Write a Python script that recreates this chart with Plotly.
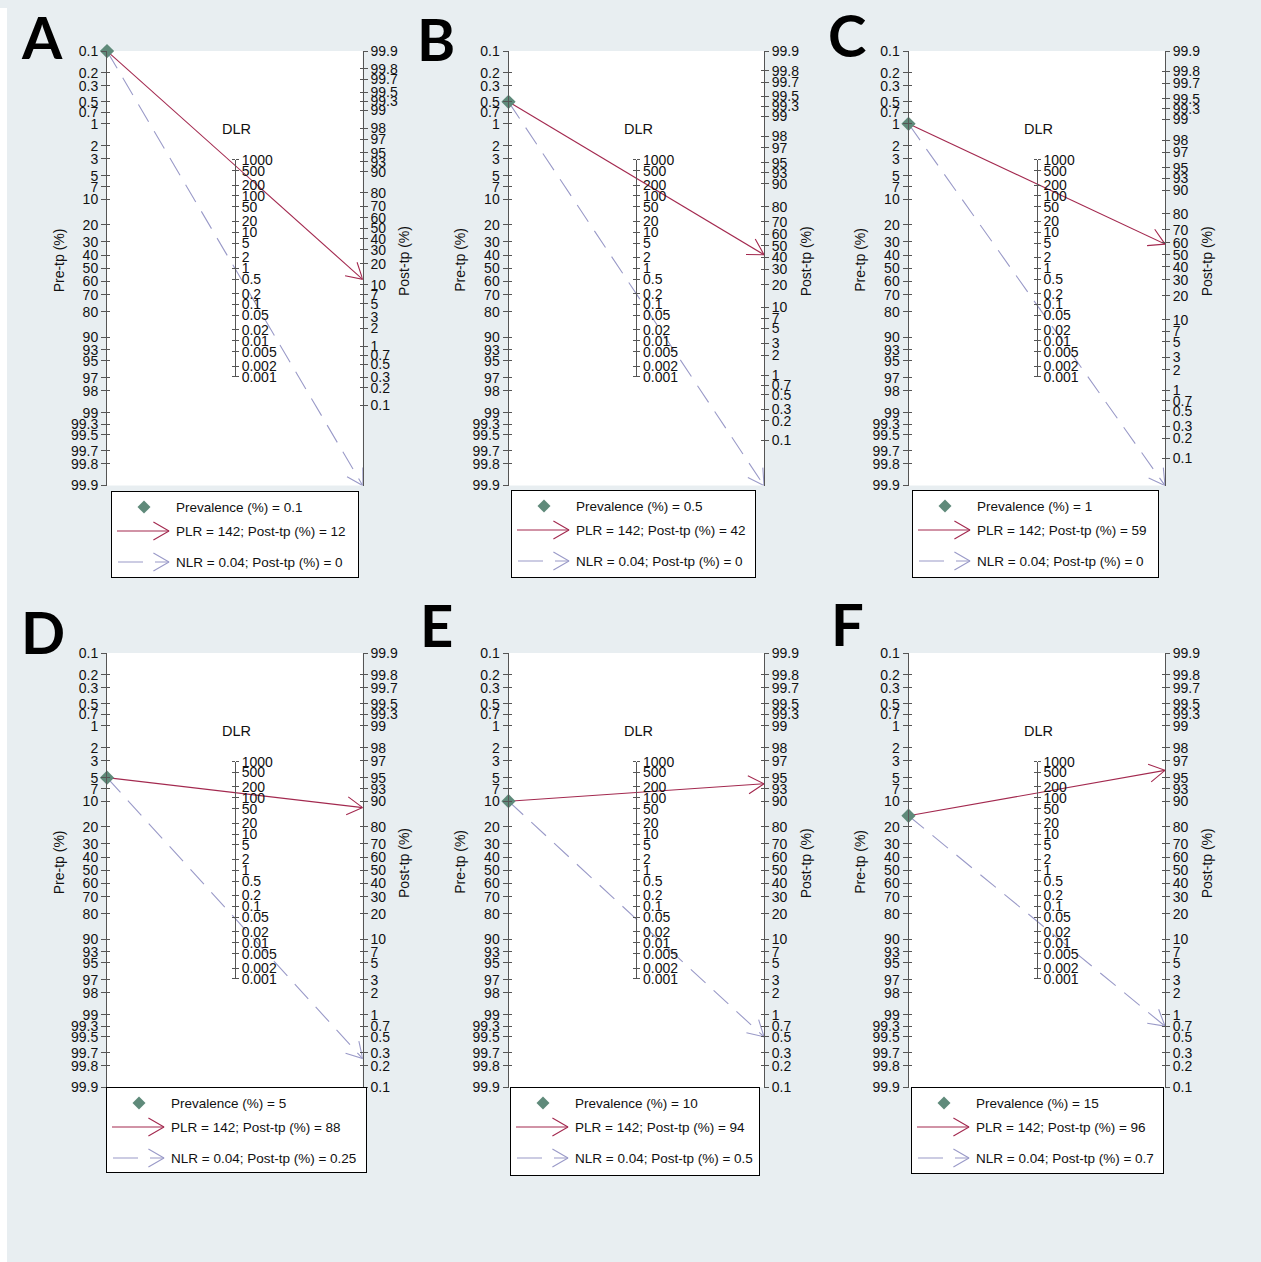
import math
import plotly.graph_objects as go

# ---- data -------------------------------------------------------------
panel_letters = ["A", "B", "C", "D", "E", "F"]
pretest_pct = [0.1, 0.5, 1, 5, 10, 15]          # prevalence (%)
plr_values = [142, 142, 142, 142, 142, 142]      # positive likelihood ratio
nlr_values = [0.04, 0.04, 0.04, 0.04, 0.04, 0.04]  # negative likelihood ratio
plr_post_pct = [12, 42, 59, 88, 94, 96]          # post-test prob. after positive test
nlr_post_pct = [0.0044, 0.02, 0.04, 0.25, 0.5, 0.7]  # post-test prob. after negative test

pre_ticks = [0.1, 0.2, 0.3, 0.5, 0.7, 1, 2, 3, 5, 7, 10, 20, 30, 40, 50, 60, 70,
             80, 90, 93, 95, 97, 98, 99, 99.3, 99.5, 99.7, 99.8, 99.9]
post_ticks = [99.9, 99.8, 99.7, 99.5, 99.3, 99, 98, 97, 95, 93, 90, 80, 70, 60, 50,
              40, 30, 20, 10, 7, 5, 3, 2, 1, 0.7, 0.5, 0.3, 0.2, 0.1]
lr_ticks = [1000, 500, 200, 100, 50, 20, 10, 5, 2, 1, 0.5, 0.2, 0.1, 0.05, 0.02,
            0.01, 0.005, 0.002, 0.001]

# ---- page geometry ------------------------------------------------------
# Positions below are in screen pixels; the page shows the figure starting
# PAGE_TOP px down and with a vertical factor of V_SCALE.
PAGE_TOP, V_SCALE = 7.9, 0.98748
FIG_W, FIG_H = 1261, 1270
col_left = [107, 508.5, 908.5]
col_right = [362.7, 764, 1165]
row_top = [51, 653]
row_bottom = [485.5, 1087.5]
legend_boxes = [(112, 492, 358, 577), (512, 491, 755, 577), (913, 491, 1158, 577),
                (107, 1088, 366, 1172), (511, 1088, 759, 1175), (912, 1088, 1163, 1173)]
letter_pos = [(22, 36), (418, 38), (829, 34), (22, 631), (421, 624), (832, 623)]

RED = "#a3294f"
LILAC = "#9a9ac8"
DIAMOND = "#5f8a7a"
AXIS = "#555555"
TXT = "#111111"
BG = "#e8eef1"
FONT = "Liberation Sans, Arial, sans-serif"
TICKFONT = dict(family=FONT, size=14, color=TXT)

P_LO, P_HI = 0.001, 0.999


def logit(p):
    return math.log(p / (1 - p))


def fx(px):
    return px / FIG_W


def fy(py):
    return 1 - (py - PAGE_TOP) / V_SCALE / FIG_H


def fmt(v):
    return f"{v:g}"


def post_label(v):
    # values below the 0.1 % floor of the scale are reported as 0
    return "0" if v < 0.1 else fmt(v)


def chevron(x0, y0, x1, y1, kx, ky, length=18.0, half_deg=30.0):
    """Open arrowhead at (x1, y1); kx/ky are pixels per data unit
    (ky measured downward)."""
    dx, dy = (x1 - x0) * kx, (y1 - y0) * ky
    n = math.hypot(dx, dy)
    bx, by = -dx / n, -dy / n
    xs, ys = [], []
    for s in (1, -1):
        a = math.radians(half_deg) * s
        rx = bx * math.cos(a) - by * math.sin(a)
        ry = bx * math.sin(a) + by * math.cos(a)
        xs.append(x1 + rx * length / kx)
        ys.append(y1 + ry * length / ky)
    return [xs[0], x1, xs[1]], [ys[0], y1, ys[1]]


layout = {}
traces = []
annotations = []
shapes = []
counter = {"x": 0, "y": 0}


def new_axis(kind):
    counter[kind] += 1
    n = counter[kind]
    ref = kind if n == 1 else f"{kind}{n}"
    key = f"{kind}axis" if n == 1 else f"{kind}axis{n}"
    return ref, key


def placeholder(xref, yref):
    traces.append(go.Scatter(x=[None], y=[None], xaxis=xref, yaxis=yref,
                             showlegend=False, hoverinfo="skip"))


def white_box(x0, y0, x1, y1):
    shapes.append(dict(type="rect", xref="paper", yref="paper", x0=fx(x0),
                       x1=fx(x1), y0=fy(y1), y1=fy(y0), fillcolor="#ffffff",
                       line=dict(width=0), layer="below"))


base_axis = dict(showgrid=False, zeroline=False, fixedrange=True,
                 tickfont=TICKFONT, tickcolor=AXIS, linecolor=AXIS, linewidth=1,
                 tickwidth=1)

u_top, u_bot = logit(P_LO), logit(P_HI)

for i in range(6):
    r, c = divmod(i, 3)
    xl, xr = col_left[c], col_right[c]
    yt, yb = row_top[r], row_bottom[r]
    w_px, h_px = xr - xl, yb - yt
    yc = (yt + yb) / 2
    xm = (xl + xr) / 2
    white_box(xl, yt, xr, yb)

    pre = pretest_pct[i] / 100
    q_lo = min(P_LO, nlr_post_pct[i] / 100)
    r_lo, r_hi = logit(q_lo), logit(P_HI)

    def right_to_left(q):
        f = (r_hi - logit(q)) / (r_hi - r_lo)
        return u_top + f * (u_bot - u_top)

    x_ref, x_key = new_axis("x")
    yl_ref, yl_key = new_axis("y")
    layout[x_key] = dict(domain=[fx(xl), fx(xr)], range=[0, 1], visible=False,
                         anchor=yl_ref, fixedrange=True)

    pre_vals = [logit(v / 100) for v in pre_ticks]
    pre_text = [fmt(v) for v in pre_ticks]
    layout[yl_key] = dict(base_axis, domain=[fy(yb), fy(yt)], range=[u_bot, u_top],
                          anchor=x_ref, side="left", tickmode="array",
                          tickvals=pre_vals, ticktext=pre_text, ticks="outside",
                          ticklen=5, showline=True)
    # inner half of the cross-shaped ticks
    t_ref, t_key = new_axis("y")
    layout[t_key] = dict(base_axis, overlaying=yl_ref, anchor=x_ref, side="left",
                         range=[u_bot, u_top], tickmode="array", tickvals=pre_vals,
                         ticks="inside", ticklen=3, showticklabels=False,
                         showline=False)
    placeholder(x_ref, t_ref)

    post_vals = [logit(v / 100) for v in post_ticks]
    post_text = [fmt(v) for v in post_ticks]
    yr_ref, yr_key = new_axis("y")
    layout[yr_key] = dict(base_axis, overlaying=yl_ref, anchor=x_ref, side="right",
                          range=[r_lo, r_hi], tickmode="array", tickvals=post_vals,
                          ticktext=post_text, ticks="outside", ticklen=4,
                          showline=True)
    placeholder(x_ref, yr_ref)
    t_ref, t_key = new_axis("y")
    layout[t_key] = dict(base_axis, overlaying=yl_ref, anchor=x_ref, side="right",
                         range=[r_lo, r_hi], tickmode="array", tickvals=post_vals,
                         ticks="inside", ticklen=3, showticklabels=False,
                         showline=False)
    placeholder(x_ref, t_ref)

    # likelihood-ratio scale in the middle (half the height of the outer scales)
    lr_half = math.log(1000) / 2 / (u_bot - u_top) * h_px
    ym_ref, ym_key = new_axis("y")
    layout[ym_key] = dict(base_axis, anchor="free", position=fx(xm), side="right",
                          domain=[fy(yc + lr_half), fy(yc - lr_half)], type="log",
                          range=[-3, 3], tickmode="array", tickvals=lr_ticks,
                          ticktext=[fmt(v) for v in lr_ticks], ticks="outside",
                          ticklen=3, showline=True)
    placeholder(x_ref, ym_ref)
    t_ref, t_key = new_axis("y")
    layout[t_key] = dict(base_axis, overlaying=ym_ref, anchor="free", position=fx(xm),
                         side="left", type="log", range=[-3, 3], tickmode="array",
                         tickvals=lr_ticks, ticks="outside", ticklen=3,
                         showticklabels=False, showline=False)
    placeholder(x_ref, t_ref)

    # nomogram lines
    kx = w_px
    ky = h_px / (u_bot - u_top)
    y0 = logit(pre)
    y_pos = right_to_left(plr_post_pct[i] / 100)
    y_neg = right_to_left(nlr_post_pct[i] / 100)

    traces.append(go.Scatter(x=[0, 1], y=[y0, y_neg], mode="lines", xaxis=x_ref,
                             yaxis=yl_ref, line=dict(color=LILAC, width=1.1,
                                                      dash="20px,11px"),
                             showlegend=False, hoverinfo="skip"))
    cx, cy = chevron(0, y0, 1, y_neg, kx, ky)
    traces.append(go.Scatter(x=cx, y=cy, mode="lines", xaxis=x_ref, yaxis=yl_ref,
                             line=dict(color=LILAC, width=1.1), showlegend=False,
                             hoverinfo="skip"))
    traces.append(go.Scatter(x=[0, 1], y=[y0, y_pos], mode="lines", xaxis=x_ref,
                             yaxis=yl_ref, line=dict(color=RED, width=1.1),
                             showlegend=False, hoverinfo="skip"))
    cx, cy = chevron(0, y0, 1, y_pos, kx, ky)
    traces.append(go.Scatter(x=cx, y=cy, mode="lines", xaxis=x_ref, yaxis=yl_ref,
                             line=dict(color=RED, width=1.1), showlegend=False,
                             hoverinfo="skip"))
    traces.append(go.Scatter(x=[0], y=[y0], mode="markers", xaxis=x_ref,
                             yaxis=yl_ref, cliponaxis=False,
                             marker=dict(symbol="diamond", size=11, color=DIAMOND),
                             showlegend=False, hoverinfo="skip"))

    # axis titles, DLR label, panel letter
    annotations.append(dict(x=fx(xl - 48), y=fy(yc - 8), xref="paper", yref="paper",
                            xanchor="center", yanchor="middle",
                            text="Pre-tp (%)", textangle=-90, showarrow=False,
                            font=dict(family=FONT, size=14, color=TXT)))
    annotations.append(dict(x=fx(xr + 42), y=fy(yc - 7), xref="paper", yref="paper",
                            xanchor="center", yanchor="middle",
                            text="Post-tp (%)", textangle=-90, showarrow=False,
                            font=dict(family=FONT, size=14, color=TXT)))
    annotations.append(dict(x=fx(xm + 2), y=fy(yc - lr_half - 31), xref="paper",
                            yref="paper", xanchor="center", yanchor="middle",
                            text="DLR", showarrow=False,
                            font=dict(family=FONT, size=14.5, color=TXT)))
    lx, ly = letter_pos[i]
    annotations.append(dict(x=fx(lx - 3), y=fy(ly), xref="paper", yref="paper",
                            xanchor="left", yanchor="middle", text=panel_letters[i],
                            showarrow=False,
                            font=dict(family="Lato, sans-serif", size=58,
                                      color="#000000", weight="bold")))

    # key box under each nomogram
    bl, bt, br, bb = legend_boxes[i]
    white_box(bl, bt, br, bb)
    gw, gh = br - bl, bb - bt
    gx_ref, gx_key = new_axis("x")
    gy_ref, gy_key = new_axis("y")
    layout[gx_key] = dict(domain=[fx(bl), fx(br)], range=[0, gw], anchor=gy_ref,
                          showline=True, mirror=True, linecolor="#000000",
                          linewidth=1, showticklabels=False, ticks="",
                          showgrid=False, zeroline=False, fixedrange=True)
    layout[gy_key] = dict(domain=[fy(bb), fy(bt)], range=[gh, 0], anchor=gx_ref,
                          showline=True, mirror=True, linecolor="#000000",
                          linewidth=1, showticklabels=False, ticks="",
                          showgrid=False, zeroline=False, fixedrange=True)
    rows = [15, 39, 70]
    traces.append(go.Scatter(x=[32], y=[rows[0]], mode="markers", xaxis=gx_ref,
                             yaxis=gy_ref, marker=dict(symbol="diamond", size=10,
                                                       color=DIAMOND),
                             showlegend=False, hoverinfo="skip"))
    traces.append(go.Scatter(x=[5, 57], y=[rows[1], rows[1]], mode="lines",
                             xaxis=gx_ref, yaxis=gy_ref,
                             line=dict(color=RED, width=1.1), showlegend=False,
                             hoverinfo="skip"))
    cx, cy = chevron(5, rows[1], 57, rows[1], 1, 1)
    traces.append(go.Scatter(x=cx, y=cy, mode="lines", xaxis=gx_ref, yaxis=gy_ref,
                             line=dict(color=RED, width=1.1), showlegend=False,
                             hoverinfo="skip"))
    traces.append(go.Scatter(x=[6, 57], y=[rows[2], rows[2]], mode="lines",
                             xaxis=gx_ref, yaxis=gy_ref,
                             line=dict(color=LILAC, width=1.1, dash="25px,12px"),
                             showlegend=False, hoverinfo="skip"))
    cx, cy = chevron(6, rows[2], 57, rows[2], 1, 1)
    traces.append(go.Scatter(x=cx, y=cy, mode="lines", xaxis=gx_ref, yaxis=gy_ref,
                             line=dict(color=LILAC, width=1.1), showlegend=False,
                             hoverinfo="skip"))
    key_texts = [
        f"Prevalence (%) = {fmt(pretest_pct[i])}",
        f"PLR = {fmt(plr_values[i])}; Post-tp (%) = {fmt(plr_post_pct[i])}",
        f"NLR = {fmt(nlr_values[i])}; Post-tp (%) = {post_label(nlr_post_pct[i])}",
    ]
    for t, ry in zip(key_texts, rows):
        annotations.append(dict(x=62, y=ry, xref=gx_ref, yref=gy_ref, text=t,
                                xanchor="left", yanchor="middle", showarrow=False,
                                font=dict(family=FONT, size=13.5, color=TXT)))

# thin white edge along the left of the page
shapes.append(dict(type="rect", xref="paper", yref="paper", x0=0, x1=fx(7), y0=0,
                   y1=1, fillcolor="#ffffff", line=dict(width=0), layer="above"))

fig = go.Figure(data=traces)
fig.update_layout(**layout)
fig.update_layout(
    width=FIG_W, height=FIG_H, autosize=False,
    margin=dict(l=0, r=0, t=0, b=0),
    paper_bgcolor=BG, plot_bgcolor="rgba(0,0,0,0)",
    showlegend=False, annotations=annotations, shapes=shapes,
)
fig.write_html("out.html")
